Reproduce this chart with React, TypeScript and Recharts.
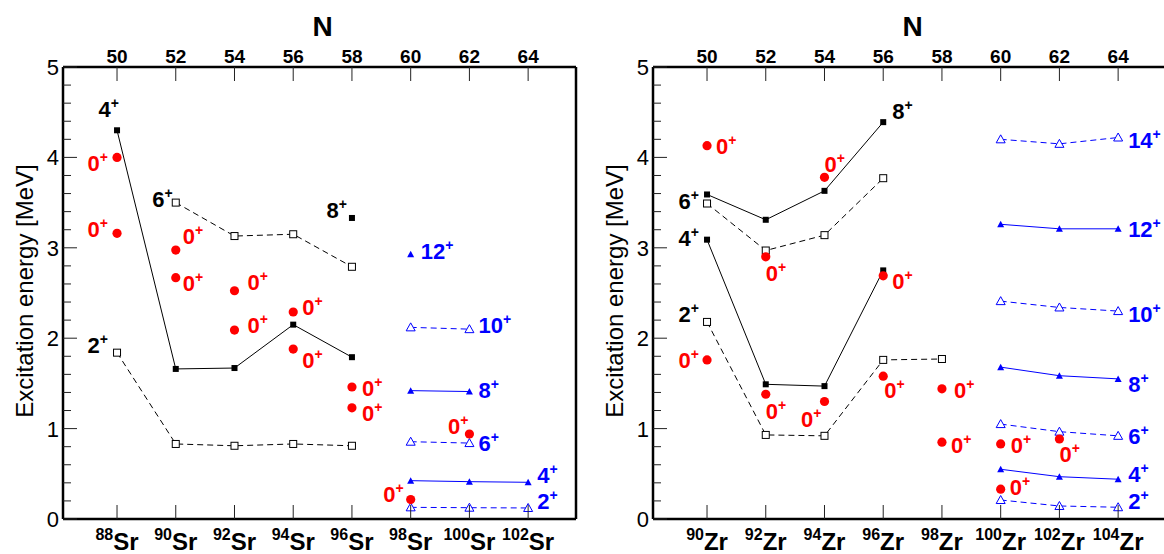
import { ComposedChart, Scatter, XAxis, YAxis } from 'recharts'

// neutron-number axis
const nTicks = [50, 52, 54, 56, 58, 60, 62, 64]
const nDomain: [number, number] = [48.16, 65.63]
const yTicks = [0, 0.2, 0.4, 0.6, 0.8, 1, 1.2, 1.4, 1.6, 1.8, 2, 2.2, 2.4, 2.6, 2.8, 3, 3.2, 3.4, 3.6, 3.8, 4, 4.2, 4.4, 4.6, 4.8, 5]

const srMasses = ['88', '90', '92', '94', '96', '98', '100', '102']
const zrMasses = ['90', '92', '94', '96', '98', '100', '102', '104']

// Sr levels (MeV)
const srSolidBlack = [{ n: 50, e: 4.3 }, { n: 52, e: 1.66 }, { n: 54, e: 1.67 }, { n: 56, e: 2.15 }, { n: 58, e: 1.79 }]
const srLone8 = [{ n: 58, e: 3.33 }]
const srDashedHigh = [{ n: 52, e: 3.5 }, { n: 54, e: 3.13 }, { n: 56, e: 3.15 }, { n: 58, e: 2.79 }]
const srDashedLow = [{ n: 50, e: 1.84 }, { n: 52, e: 0.83 }, { n: 54, e: 0.81 }, { n: 56, e: 0.83 }, { n: 58, e: 0.81 }]
const srZeroPlus = [
  { n: 50, e: 4.0 }, { n: 50, e: 3.16 }, { n: 52, e: 2.975 }, { n: 52, e: 2.67 },
  { n: 54, e: 2.525 }, { n: 54, e: 2.09 }, { n: 56, e: 2.29 }, { n: 56, e: 1.88 },
  { n: 58, e: 1.46 }, { n: 58, e: 1.23 }, { n: 60, e: 0.215 }, { n: 62, e: 0.94 },
]
const srBand12 = [{ n: 60, e: 2.93 }]
const srBand10 = [{ n: 60, e: 2.12 }, { n: 62, e: 2.1 }]
const srBand8 = [{ n: 60, e: 1.42 }, { n: 62, e: 1.41 }]
const srBand6 = [{ n: 60, e: 0.855 }, { n: 62, e: 0.84 }]
const srBand4 = [{ n: 60, e: 0.424 }, { n: 62, e: 0.413 }, { n: 64, e: 0.406 }]
const srBand2 = [{ n: 60, e: 0.129 }, { n: 62, e: 0.125 }, { n: 64, e: 0.122 }]

// Zr levels (MeV)
const zrSolidLow = [{ n: 50, e: 3.09 }, { n: 52, e: 1.49 }, { n: 54, e: 1.47 }, { n: 56, e: 2.75 }]
const zrSolidHigh = [{ n: 50, e: 3.59 }, { n: 52, e: 3.31 }, { n: 54, e: 3.63 }, { n: 56, e: 4.39 }]
const zrDashedHigh = [{ n: 50, e: 3.49 }, { n: 52, e: 2.97 }, { n: 54, e: 3.14 }, { n: 56, e: 3.77 }]
const zrDashedLow = [{ n: 50, e: 2.18 }, { n: 52, e: 0.93 }, { n: 54, e: 0.92 }, { n: 56, e: 1.76 }, { n: 58, e: 1.77 }]
const zrZeroPlus = [
  { n: 50, e: 4.13 }, { n: 50, e: 1.76 }, { n: 52, e: 2.9 }, { n: 52, e: 1.38 },
  { n: 54, e: 3.78 }, { n: 54, e: 1.3 }, { n: 56, e: 2.69 }, { n: 56, e: 1.58 },
  { n: 58, e: 1.44 }, { n: 58, e: 0.85 }, { n: 60, e: 0.83 }, { n: 60, e: 0.33 }, { n: 62, e: 0.885 },
]
const zrBand14 = [{ n: 60, e: 4.2 }, { n: 62, e: 4.15 }, { n: 64, e: 4.22 }]
const zrBand12 = [{ n: 60, e: 3.26 }, { n: 62, e: 3.21 }, { n: 64, e: 3.21 }]
const zrBand10 = [{ n: 60, e: 2.41 }, { n: 62, e: 2.34 }, { n: 64, e: 2.3 }]
const zrBand8 = [{ n: 60, e: 1.68 }, { n: 62, e: 1.585 }, { n: 64, e: 1.55 }]
const zrBand6 = [{ n: 60, e: 1.05 }, { n: 62, e: 0.966 }, { n: 64, e: 0.92 }]
const zrBand4 = [{ n: 60, e: 0.55 }, { n: 62, e: 0.468 }, { n: 64, e: 0.44 }]
const zrBand2 = [{ n: 60, e: 0.21 }, { n: 62, e: 0.144 }, { n: 64, e: 0.13 }]

// spin tags: point they belong to, spin, colour (k black, r red, b blue)
const srTags = [
  { n: 50, e: 4.3, spin: '4', tone: 'k' }, { n: 50, e: 4.0, spin: '0', tone: 'r' },
  { n: 50, e: 3.16, spin: '0', tone: 'r' }, { n: 52, e: 3.5, spin: '6', tone: 'k' },
  { n: 52, e: 2.975, spin: '0', tone: 'r' }, { n: 52, e: 2.67, spin: '0', tone: 'r' },
  { n: 54, e: 2.525, spin: '0', tone: 'r' }, { n: 54, e: 2.09, spin: '0', tone: 'r' },
  { n: 56, e: 2.29, spin: '0', tone: 'r' }, { n: 56, e: 1.88, spin: '0', tone: 'r' },
  { n: 58, e: 3.33, spin: '8', tone: 'k' }, { n: 58, e: 1.46, spin: '0', tone: 'r' },
  { n: 58, e: 1.23, spin: '0', tone: 'r' }, { n: 50, e: 1.84, spin: '2', tone: 'k' },
  { n: 60, e: 2.93, spin: '12', tone: 'b' }, { n: 62, e: 2.1, spin: '10', tone: 'b' },
  { n: 62, e: 1.41, spin: '8', tone: 'b' }, { n: 62, e: 0.84, spin: '6', tone: 'b' },
  { n: 62, e: 0.94, spin: '0', tone: 'r' }, { n: 64, e: 0.406, spin: '4', tone: 'b' },
  { n: 64, e: 0.122, spin: '2', tone: 'b' }, { n: 60, e: 0.215, spin: '0', tone: 'r' },
]
// [dx, dy, anchor] for each tag, in px
const srTagOffsets: [number, number, string][] = [
  [2, -21.5, 'e'], [-9, 6, 'e'], [-9, -4, 'e'], [-3, -4, 'e'],
  [7, -14, 's'], [7, 5, 's'], [13, -9, 's'], [13, -5, 's'],
  [9, -5, 's'], [9, 11, 's'], [-5, -8, 'e'], [10, 1, 's'],
  [10, 5, 's'], [-9, -8, 'e'], [10, -3.5, 's'], [9, -4, 's'],
  [9, -2, 's'], [9, 0, 's'], [-1, -8, 'e'], [9, -7.5, 's'],
  [9, -7, 's'], [-7, -6, 'e'],
]

const zrTags = [
  { n: 50, e: 4.13, spin: '0', tone: 'r' }, { n: 50, e: 3.59, spin: '6', tone: 'k' },
  { n: 50, e: 3.09, spin: '4', tone: 'k' }, { n: 52, e: 2.9, spin: '0', tone: 'r' },
  { n: 54, e: 3.78, spin: '0', tone: 'r' }, { n: 56, e: 4.39, spin: '8', tone: 'k' },
  { n: 50, e: 2.18, spin: '2', tone: 'k' }, { n: 50, e: 1.76, spin: '0', tone: 'r' },
  { n: 52, e: 1.38, spin: '0', tone: 'r' }, { n: 54, e: 1.3, spin: '0', tone: 'r' },
  { n: 56, e: 2.69, spin: '0', tone: 'r' }, { n: 56, e: 1.58, spin: '0', tone: 'r' },
  { n: 58, e: 1.44, spin: '0', tone: 'r' }, { n: 58, e: 0.85, spin: '0', tone: 'r' },
  { n: 60, e: 0.83, spin: '0', tone: 'r' }, { n: 60, e: 0.33, spin: '0', tone: 'r' },
  { n: 62, e: 0.885, spin: '0', tone: 'r' }, { n: 64, e: 4.22, spin: '14', tone: 'b' },
  { n: 64, e: 3.21, spin: '12', tone: 'b' }, { n: 64, e: 2.3, spin: '10', tone: 'b' },
  { n: 64, e: 1.55, spin: '8', tone: 'b' }, { n: 64, e: 0.92, spin: '6', tone: 'b' },
  { n: 64, e: 0.44, spin: '4', tone: 'b' }, { n: 64, e: 0.13, spin: '2', tone: 'b' },
]
const zrTagOffsets: [number, number, string][] = [
  [9, 0, 's'], [-8, 7, 'e'], [-8, -1.5, 'e'], [0, 16, 's'],
  [0, -13, 's'], [9, -11, 's'], [-8, -8, 'e'], [-8, 0, 'e'],
  [0, 17, 's'], [-3, 18, 'e'], [9, 5, 's'], [1, 14, 's'],
  [12, 1, 's'], [9, 3, 's'], [10, 1.5, 's'], [9, -2, 's'],
  [0, 15, 's'], [10, 2, 's'], [10, 0, 's'], [10, 3, 's'],
  [10, 5.5, 's'], [10, 0, 's'], [10, -5, 's'], [10, -6, 's'],
]

const RED = '#ff0000'
const BLUE = '#0000ff'
const INK = '#000000'
const toneColor: Record<string, string> = { r: RED, b: BLUE, k: INK }
const FRAME = { stroke: INK, strokeWidth: 2.5 }

const filledSquare = (p: any) => <rect x={p.cx - 3} y={p.cy - 3} width={6} height={6} fill={INK} />
const openSquare = (p: any) => (
  <rect x={p.cx - 3.5} y={p.cy - 3.5} width={7} height={7} fill="#fff" stroke={INK} strokeWidth={1} />
)
const redDot = (p: any) => <circle cx={p.cx} cy={p.cy} r={4.6} fill={RED} />
const filledTri = (p: any) => (
  <polygon points={`${p.cx - 3.5},${p.cy + 3} ${p.cx + 3.5},${p.cy + 3} ${p.cx},${p.cy - 3.5}`} fill={BLUE} />
)
const openTri = (p: any) => (
  <polygon
    points={`${p.cx - 4.5},${p.cy + 3.5} ${p.cx + 4.5},${p.cy + 3.5} ${p.cx},${p.cy - 4.5}`}
    fill="#fff"
    stroke={BLUE}
    strokeWidth={1}
  />
)

const kinds: Record<string, { shape: any; line: any }> = {
  solidSq: { shape: filledSquare, line: { stroke: INK, strokeWidth: 1 } },
  dashSq: { shape: openSquare, line: { stroke: INK, strokeWidth: 1, strokeDasharray: '6 4' } },
  sq: { shape: filledSquare, line: false },
  solidTri: { shape: filledTri, line: { stroke: BLUE, strokeWidth: 1 } },
  dashTri: { shape: openTri, line: { stroke: BLUE, strokeWidth: 1, strokeDasharray: '6 4' } },
  dot: { shape: redDot, line: false },
}

const spinTag = (p: any) => {
  const [dx, dy, anchor] = p.offset
  return (
    <text
      x={p.cx + dx}
      y={p.cy + dy + 8}
      textAnchor={anchor === 'e' ? 'end' : 'start'}
      fontSize={22}
      fontWeight="bold"
      fill={toneColor[p.tone]}
    >
      {p.spin}
      <tspan dy={-9} fontSize={14}>+</tspan>
    </text>
  )
}

function Panel({ element, masses, series, tags, offsets }: any) {
  const tagData = tags.map((t: any, i: number) => ({ ...t, offset: offsets[i] }))

  const bottomTick = (p: any) => {
    const mass = masses[nTicks.indexOf(p.payload.value)]
    return (
      <g>
        <line x1={p.x} x2={p.x} y1={p.y} y2={p.y - 14} stroke="#222" strokeWidth={1} />
        <text x={p.x} y={p.y + 31} textAnchor="middle" fontWeight="bold" fill={INK}>
          <tspan fontSize={16} dy={-10}>{mass}</tspan>
          <tspan fontSize={24} dy={10}>{element}</tspan>
        </text>
      </g>
    )
  }
  const topTick = (p: any) => (
    <g>
      <line x1={p.x} x2={p.x} y1={p.y} y2={p.y + 14} stroke="#222" strokeWidth={1} />
      <text x={p.x} y={p.y - 4} textAnchor="middle" fontSize={19} fontWeight="bold" fill={INK}>
        {p.payload.value}
      </text>
    </g>
  )
  const leftTick = (p: any) => {
    const major = Number.isInteger(p.payload.value)
    return (
      <g>
        <line x1={p.x} x2={p.x + (major ? 14 : 8)} y1={p.y} y2={p.y} stroke="#222" strokeWidth={1} />
        {major && (
          <text x={p.x - 4} y={p.y + 8} textAnchor="end" fontSize={22} fill={INK}>
            {p.payload.value}
          </text>
        )}
      </g>
    )
  }
  const nTitle = (p: any) => {
    const vb = p.viewBox || { x: 63, y: 0, width: 513, height: 67 }
    const x = vb.x + ((57 - nDomain[0]) / (nDomain[1] - nDomain[0])) * vb.width
    return (
      <text x={x} y={36} textAnchor="middle" fontSize={28} fontWeight="bold" fill={INK}>
        N
      </text>
    )
  }
  const eTitle = (p: any) => {
    const vb = p.viewBox || { x: 0, y: 67, width: 63, height: 452 }
    const y = vb.y + vb.height / 2 - 2
    return (
      <text transform={`translate(24,${y}) rotate(-90)`} textAnchor="middle" dominantBaseline="central" fontSize={24} fill={INK}>
        Excitation energy [MeV]
      </text>
    )
  }

  return (
    <ComposedChart width={590} height={554} margin={{ top: 0, right: 0, bottom: 0, left: 0 }}>
      <XAxis
        xAxisId="bottom"
        dataKey="n"
        type="number"
        domain={nDomain}
        allowDataOverflow
        ticks={nTicks}
        interval={0}
        orientation="bottom"
        height={35}
        tickSize={0}
        tickMargin={0}
        axisLine={FRAME}
        tick={bottomTick}
      />
      <XAxis
        xAxisId="top"
        dataKey="n"
        type="number"
        domain={nDomain}
        allowDataOverflow
        ticks={nTicks}
        interval={0}
        orientation="top"
        height={67}
        tickSize={0}
        tickMargin={0}
        axisLine={FRAME}
        tick={topTick}
        label={nTitle}
      />
      <YAxis
        yAxisId="left"
        dataKey="e"
        type="number"
        domain={[0, 5]}
        allowDataOverflow
        ticks={yTicks}
        interval={0}
        width={63}
        tickSize={0}
        tickMargin={0}
        axisLine={FRAME}
        tick={leftTick}
        label={eTitle}
      />
      <YAxis
        yAxisId="right"
        orientation="right"
        type="number"
        domain={[0, 5]}
        width={14}
        tick={false}
        tickLine={false}
        axisLine={FRAME}
      />
      {series.map((s: any, i: number) => (
        <Scatter
          key={i}
          xAxisId="bottom"
          yAxisId="left"
          data={s.data}
          shape={kinds[s.kind].shape}
          line={kinds[s.kind].line}
          lineType="joint"
          isAnimationActive={false}
        />
      ))}
      <Scatter xAxisId="bottom" yAxisId="left" data={tagData} shape={spinTag} isAnimationActive={false} />
    </ComposedChart>
  )
}

const srSeries = [
  { data: srSolidBlack, kind: 'solidSq' },
  { data: srLone8, kind: 'sq' },
  { data: srDashedHigh, kind: 'dashSq' },
  { data: srDashedLow, kind: 'dashSq' },
  { data: srBand12, kind: 'solidTri' },
  { data: srBand10, kind: 'dashTri' },
  { data: srBand8, kind: 'solidTri' },
  { data: srBand6, kind: 'dashTri' },
  { data: srBand4, kind: 'solidTri' },
  { data: srBand2, kind: 'dashTri' },
  { data: srZeroPlus, kind: 'dot' },
]

const zrSeries = [
  { data: zrSolidLow, kind: 'solidSq' },
  { data: zrSolidHigh, kind: 'solidSq' },
  { data: zrDashedHigh, kind: 'dashSq' },
  { data: zrDashedLow, kind: 'dashSq' },
  { data: zrBand14, kind: 'dashTri' },
  { data: zrBand12, kind: 'solidTri' },
  { data: zrBand10, kind: 'dashTri' },
  { data: zrBand8, kind: 'solidTri' },
  { data: zrBand6, kind: 'dashTri' },
  { data: zrBand4, kind: 'solidTri' },
  { data: zrBand2, kind: 'dashTri' },
  { data: zrZeroPlus, kind: 'dot' },
]

export default function App() {
  return (
    <div
      style={{
        position: 'absolute',
        left: 0,
        top: 0,
        width: 1164,
        height: 554,
        overflow: 'hidden',
        background: '#fff',
        fontFamily: '"Liberation Sans", Arial, sans-serif',
      }}
    >
      <div style={{ position: 'absolute', left: 0, top: 0 }}>
        <Panel element="Sr" masses={srMasses} series={srSeries} tags={srTags} offsets={srTagOffsets} />
      </div>
      <div style={{ position: 'absolute', left: 590, top: 0 }}>
        <Panel element="Zr" masses={zrMasses} series={zrSeries} tags={zrTags} offsets={zrTagOffsets} />
      </div>
    </div>
  )
}
